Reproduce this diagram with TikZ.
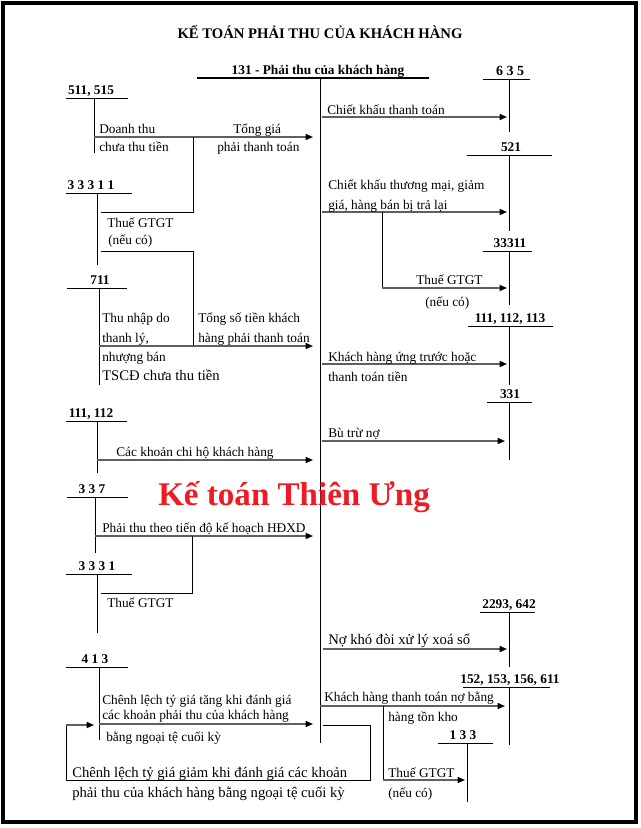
\documentclass[tikz,border=0pt]{standalone}
\usepackage{fontspec}
\setmainfont{Liberation Serif}
\usetikzlibrary{arrows.meta}
\definecolor{wm}{RGB}{237,28,36}
\definecolor{arr}{RGB}{95,95,95}
\begin{document}
\begin{tikzpicture}[x=0.75pt,y=-0.75pt,
  txt/.style={anchor=base west, inner sep=0pt, font=\fontsize{10}{12}\selectfont},
  bigtxt/.style={anchor=base west, inner sep=0pt, font=\fontsize{11}{13}\selectfont},
  acc/.style={anchor=base, inner sep=0pt, font=\fontsize{10}{12}\selectfont\bfseries},
  tline/.style={line width=0.75pt},
  barline/.style={line width=1.5pt},
  arw/.style={draw=arr, line width=1.1pt, -{Triangle[length=5.5pt,width=4.5pt,color=black]}},
  conn/.style={line width=0.75pt}]
\useasboundingbox (0,0) rectangle (640,828);
\draw[line width=2.4pt] (3,3) rectangle (636,822);

% title
\node[anchor=base, inner sep=0pt, font=\fontsize{11}{13}\selectfont\bfseries] (title) at (320,38) {KẾ TOÁN PHẢI THU CỦA KHÁCH HÀNG};

% main account 131
\node[acc] (l131) at (318,74) {131 - Phải thu của khách hàng};
\draw[barline] (197,78) -- (429,78);
\draw[tline] (320,78) -- (320,743);

% right accounts
\node[acc, font=\fontsize{10.5}{12}\selectfont\bfseries] (l635) at (510,75) {6 3 5};
\draw[tline] (483,79) -- (530,79); \draw[tline] (509,79) -- (509,132);
\node[acc] (l521) at (511,151) {521};
\draw[tline] (467,155) -- (552,155); \draw[tline] (509,155) -- (509,231);
\node[acc] (l33311r) at (510,247) {33311};
\draw[tline] (483,251) -- (532,251); \draw[tline] (509,251) -- (509,305);
\node[acc] (l111r) at (510,322) {111, 112, 113};
\draw[tline] (468,326) -- (553,326); \draw[tline] (509,326) -- (509,385);
\node[acc] (l331) at (510,398) {331};
\draw[tline] (487,402) -- (532,402); \draw[tline] (509,402) -- (509,460);
\node[acc] (l2293) at (509,608) {2293, 642};
\draw[tline] (480,612) -- (535,612); \draw[tline] (509,612) -- (509,667);
\node[acc] (l152) at (510,683) {152, 153, 156, 611};
\draw[tline] (463,687) -- (550,687); \draw[tline] (509,687) -- (509,745);
\node[acc] (l133) at (463,739) {1 3 3};
\draw[tline] (438,743) -- (493,743); \draw[tline] (467,743) -- (467,802);

% left accounts
\node[acc] (l511) at (91,94) {511, 515};
\draw[tline] (66,98) -- (128,98); \draw[tline] (94,98) -- (94,153);
\node[acc] (l33311l) at (91,189) {3 3 3 1 1};
\draw[tline] (66,193) -- (132,193); \draw[tline] (97,193) -- (97,265);
\node[acc] (l711) at (100,284) {711};
\draw[tline] (67,288) -- (127,288); \draw[tline] (99,288) -- (99,385);
\node[acc] (l111l) at (91,417) {111, 112};
\draw[tline] (66,421) -- (127,421); \draw[tline] (97,421) -- (97,473);
\node[acc] (l337) at (92,493) {3 3 7};
\draw[tline] (67,497) -- (128,497); \draw[tline] (95,497) -- (95,553);
\node[acc] (l3331) at (97,570) {3 3 3 1};
\draw[tline] (66,574) -- (132,574); \draw[tline] (97,574) -- (97,633);
\node[acc] (l413) at (95,663) {4 1 3};
\draw[tline] (66,667) -- (128,667); \draw[tline] (99,667) -- (99,740);

% left flows
\draw[arw] (94,137) -- (313,137);
\node[txt] (t1a) at (99,133) {Doanh thu};
\node[txt] (t1b) at (99,151) {chưa thu tiền};
\node[txt] (t1c) at (233,133) {Tổng giá};
\node[txt] (t1d) at (217,151) {phải thanh toán};
\draw[conn] (193,137) -- (193,212) -- (101,212);
\node[txt] (t2a) at (107,227) {Thuế GTGT};
\node[txt] (t2b) at (108,244) {(nếu có)};
\draw[conn] (101,251) -- (193,251) -- (193,346);
\draw[arw] (99,346) -- (313,346);
\node[txt] (t3a) at (102,322) {Thu nhập do};
\node[txt] (t3b) at (102,342) {thanh lý,};
\node[txt] (t3c) at (102,361) {nhượng bán};
\node[bigtxt] (t3d) at (102,380) {TSCĐ chưa thu tiền};
\node[txt] (t3e) at (198,322) {Tổng số tiền khách};
\node[txt] (t3f) at (198,342) {hàng phải thanh toán};
\draw[arw] (97,460) -- (313,460);
\node[txt] (t4) at (116,456) {Các khoản chi hộ khách hàng};
\draw[arw] (95,536) -- (313,536);
\node[txt] (t5) at (102,532) {Phải thu theo tiến độ kế hoạch HĐXD};
\draw[conn] (192,536) -- (192,593) -- (101,593);
\node[txt] (t6) at (107,607) {Thuế GTGT};
\draw[arw] (99,724) -- (313,724);
\node[txt] (t7a) at (102,704) {Chênh lệch tỷ giá tăng khi đánh giá};
\node[txt] (t7b) at (102,719) {các khoản phải thu của khách hàng};
\node[txt] (t7c) at (106,741) {bằng ngoại tệ cuối kỳ};
\draw[conn] (323,725) -- (370,725) -- (370,780) -- (66,780) -- (66,725);
\draw[arw] (66,725) -- (94,725);
\node[bigtxt] (t8a) at (72,777) {Chênh lệch tỷ giá giảm khi đánh giá các khoản};
\node[bigtxt] (t8b) at (72,797) {phải thu của khách hàng bằng ngoại tệ cuối kỳ};

% right flows
\draw[arw] (322,117) -- (507,117);
\node[txt] (r1) at (327,114) {Chiết khấu thanh toán};
\draw[arw] (322,212) -- (507,212);
\node[txt] (r2a) at (328,189) {Chiết khấu thương mại, giảm};
\node[txt] (r2b) at (328,209) {giá, hàng bán bị trả lại};
\draw[conn] (382,212) -- (382,288);
\draw[arw] (382,288) -- (507,288);
\node[txt] (r3a) at (416,284) {Thuế GTGT};
\node[txt] (r3b) at (425,306) {(nếu có)};
\draw[arw] (322,364) -- (507,364);
\node[txt] (r4a) at (328,361) {Khách hàng ứng trước hoặc};
\node[txt] (r4b) at (328,381) {thanh toán tiền};
\draw[arw] (322,441) -- (505,441);
\node[txt] (r5) at (328,437) {Bù trừ nợ};
\draw[arw] (323,649) -- (507,649);
\node[bigtxt] (r6) at (328,644) {Nợ khó đòi xử lý xoá sổ};
\draw[arw] (320,706) -- (505,706);
\node[txt] (r7a) at (324,701) {Khách hàng thanh toán nợ bằng};
\node[txt] (r7b) at (388,721) {hàng tồn kho};
\draw[conn] (383,706) -- (383,780);
\draw[arw] (383,780) -- (465,780);
\node[txt] (r8a) at (388,777) {Thuế GTGT};
\node[txt] (r8b) at (388,797) {(nếu có)};

% watermark
\node[anchor=base west, inner sep=0pt, text=wm, font=\fontsize{24.8}{28}\selectfont\bfseries] (wm) at (158,505) {Kế toán Thiên Ưng};
\end{tikzpicture}
\end{document}
